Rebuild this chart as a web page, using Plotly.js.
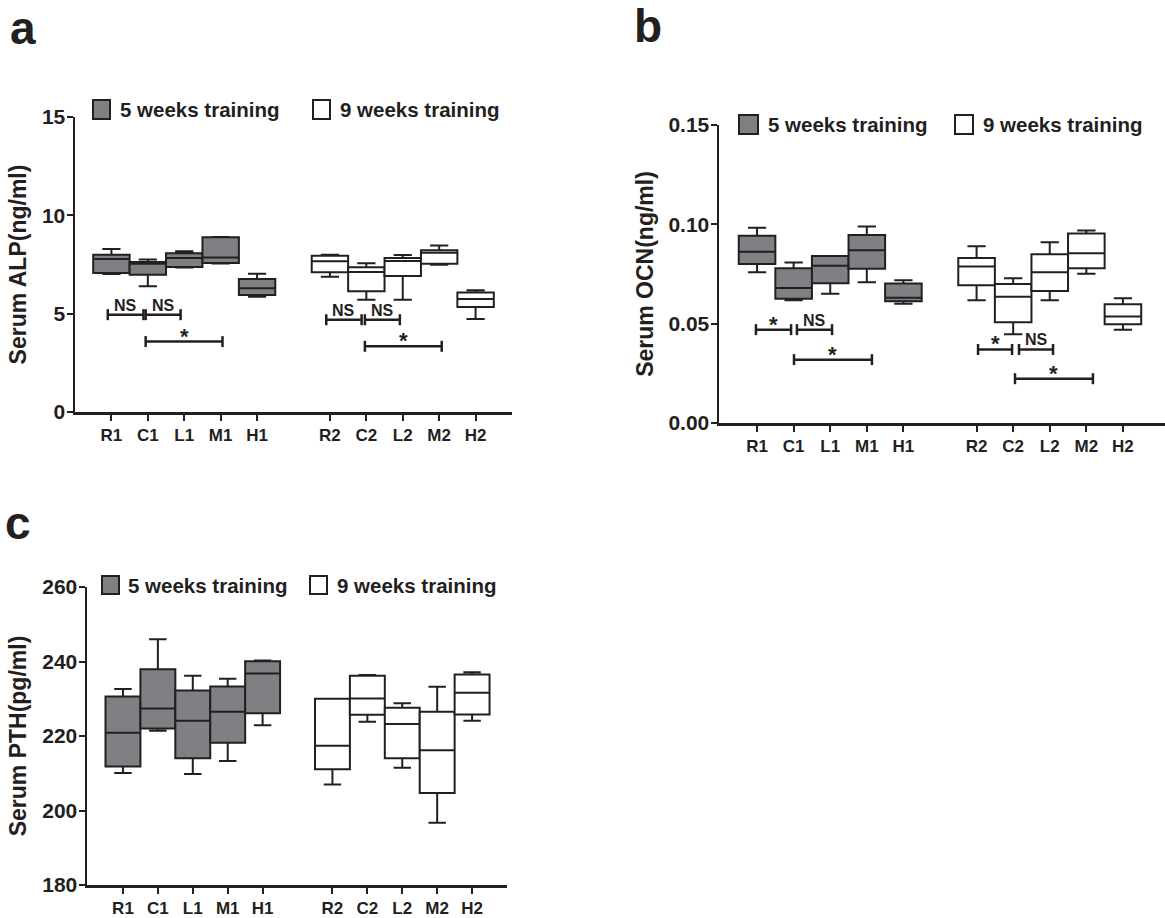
<!DOCTYPE html>
<html>
<head>
<meta charset="utf-8">
<script src="https://cdn.plot.ly/plotly-3.0.1.min.js"></script>
<style>html,body{margin:0;padding:0;background:#fff}#chart{width:1165px;height:918px}</style>
</head>
<body>
<div id="chart"></div>
<script>
// ---------- data ----------
const groups5 = ["R1", "C1", "L1", "M1", "H1"];
const groups9 = ["R2", "C2", "L2", "M2", "H2"];
const pos5 = [0, 1, 2, 3, 4];
const pos9 = [6, 7, 8, 9, 10];
const tickPositions = [0, 1, 2, 3, 4, 6, 7, 8, 9, 10];
const tickLabels = ["R1", "C1", "L1", "M1", "H1", "R2", "C2", "L2", "M2", "H2"];
const seriesNames = ["5 weeks training", "9 weeks training"];

// Panel a: Serum ALP (ng/ml)
const alp5Low = [7.02, 6.39, 7.35, 7.55, 5.86];
const alp5Q1 = [7.07, 6.98, 7.37, 7.58, 5.95];
const alp5Med = [7.78, 7.54, 7.83, 7.85, 6.29];
const alp5Q3 = [8.00, 7.63, 8.07, 8.88, 6.76];
const alp5High = [8.29, 7.75, 8.17, 8.90, 7.03];
const alp9Low = [6.88, 5.71, 5.71, 7.49, 4.73];
const alp9Q1 = [7.10, 6.14, 6.92, 7.54, 5.34];
const alp9Med = [7.66, 7.12, 7.68, 8.10, 5.75];
const alp9Q3 = [7.95, 7.36, 7.83, 8.22, 6.07];
const alp9High = [8.00, 7.56, 7.98, 8.46, 6.19];
const alpSigStart = [-0.1, 0.94, 0.94, 5.9, 6.96, 6.96];
const alpSigEnd = [0.88, 1.9, 3.05, 6.87, 7.92, 9.07];
const alpSigY = [4.95, 4.95, 3.58, 4.69, 4.69, 3.34];
const alpSigText = ["NS", "NS", "*", "NS", "NS", "*"];

// Panel b: Serum OCN (ng/ml)
const ocn5Low = [0.0759, 0.0618, 0.0650, 0.0709, 0.0600];
const ocn5Q1 = [0.0800, 0.0625, 0.0704, 0.0776, 0.0613];
const ocn5Med = [0.0862, 0.0680, 0.0791, 0.0870, 0.0630];
const ocn5Q3 = [0.0942, 0.0779, 0.0840, 0.0946, 0.0702];
const ocn5High = [0.0983, 0.0808, 0.0840, 0.0989, 0.0719];
const ocn9Low = [0.0618, 0.0447, 0.0618, 0.0751, 0.0469];
const ocn9Q1 = [0.0694, 0.0507, 0.0664, 0.0779, 0.0497];
const ocn9Med = [0.0788, 0.0635, 0.0759, 0.0855, 0.0536];
const ocn9Q3 = [0.0830, 0.0700, 0.0850, 0.0954, 0.0598];
const ocn9High = [0.0890, 0.0729, 0.0910, 0.0969, 0.0628];
const ocnSigStart = [-0.03, 1.09, 1.01, 6.04, 7.16, 7.05];
const ocnSigEnd = [0.93, 2.05, 3.14, 6.97, 8.09, 9.18];
const ocnSigY = [0.047, 0.047, 0.0319, 0.037, 0.037, 0.0223];
const ocnSigText = ["*", "NS", "*", "*", "NS", "*"];

// Panel c: Serum PTH (pg/ml)
const pth5Low = [210.1, 221.4, 209.8, 213.3, 222.9];
const pth5Q1 = [211.8, 222.0, 214.0, 218.2, 226.1];
const pth5Med = [220.9, 227.4, 224.1, 226.5, 236.8];
const pth5Q3 = [230.6, 237.9, 232.2, 233.3, 240.1];
const pth5High = [232.6, 246.0, 236.2, 235.4, 240.3];
const pth9Low = [207.0, 223.8, 211.5, 196.7, 224.1];
const pth9Q1 = [211.1, 225.7, 214.0, 204.7, 225.8];
const pth9Med = [217.4, 230.1, 223.2, 216.2, 231.6];
const pth9Q3 = [230.0, 236.2, 227.6, 226.5, 236.5];
const pth9High = [230.0, 236.4, 228.8, 233.2, 237.1];

// ---------- style ----------
const INK = "#231f20";
const GREY = "#7e8083";
const FONT = "Liberation Sans, Arial, sans-serif";
const W = 1165, H = 918;
const px = v => v / W;
const py = v => 1 - v / H;

function boxTrace(xa, ya, pos, lo, q1, med, q3, hi, fill) {
  return {
    type: "box", xaxis: xa, yaxis: ya, x: pos,
    lowerfence: lo, q1: q1, median: med, q3: q3, upperfence: hi,
    width: 1, whiskerwidth: 0.5, boxpoints: false,
    fillcolor: fill, line: {color: INK, width: 2},
    showlegend: false, hoverinfo: "skip"
  };
}

const data = [
  boxTrace("x", "y", pos5, alp5Low, alp5Q1, alp5Med, alp5Q3, alp5High, GREY),
  boxTrace("x", "y", pos9, alp9Low, alp9Q1, alp9Med, alp9Q3, alp9High, "#ffffff"),
  boxTrace("x2", "y2", pos5, ocn5Low, ocn5Q1, ocn5Med, ocn5Q3, ocn5High, GREY),
  boxTrace("x2", "y2", pos9, ocn9Low, ocn9Q1, ocn9Med, ocn9Q3, ocn9High, "#ffffff"),
  boxTrace("x3", "y3", pos5, pth5Low, pth5Q1, pth5Med, pth5Q3, pth5High, GREY),
  boxTrace("x3", "y3", pos9, pth9Low, pth9Q1, pth9Med, pth9Q3, pth9High, "#ffffff")
];

function xAxis(domain, range, anchor) {
  return {
    domain: domain, range: range, anchor: anchor,
    tickmode: "array", tickvals: tickPositions, ticktext: tickLabels,
    ticks: "outside", ticklen: 6, tickwidth: 2, tickcolor: INK,
    showline: true, linewidth: 2.5, linecolor: INK,
    showgrid: false, zeroline: false,
    tickfont: {family: FONT, size: 17, color: INK, weight: "bold"}
  };
}
function yAxis(domain, range, dtick, fmt, title, anchor) {
  return {
    domain: domain, range: range, anchor: anchor, dtick: dtick, tick0: range[0],
    tickformat: fmt,
    ticks: "outside", ticklen: 6, tickwidth: 2, tickcolor: INK,
    ticklabelstandoff: -3,
    showline: true, linewidth: 2.5, linecolor: INK,
    showgrid: false, zeroline: false,
    tickfont: {family: FONT, size: 21, color: INK, weight: "bold"},
    title: {text: title, standoff: 9, font: {family: FONT, size: 23, color: INK, weight: "bold"}}
  };
}

const shapes = [];
const annotations = [];

function addBrackets(xref, yref, starts, ends, ys, texts) {
  for (let i = 0; i < starts.length; i++) {
    shapes.push({type: "line", xref: xref, yref: yref, x0: starts[i], x1: ends[i], y0: ys[i], y1: ys[i],
      line: {color: INK, width: 2.5}});
    [starts[i], ends[i]].forEach(xv => {
      shapes.push({type: "line", xref: xref, yref: yref, x0: xv, x1: xv,
        ysizemode: "pixel", yanchor: ys[i], y0: -5.5, y1: 5.5,
        line: {color: INK, width: 2.5}});
    });
    const isStar = texts[i] === "*";
    annotations.push({xref: xref, yref: yref, x: (starts[i] + ends[i]) / 2, y: ys[i],
      text: texts[i], showarrow: false, xanchor: "center", yanchor: "bottom",
      yshift: isStar ? -9 : -1,
      font: {family: FONT, size: isStar ? 22 : 16, color: INK, weight: "bold"}});
  }
}
addBrackets("x", "y", alpSigStart, alpSigEnd, alpSigY, alpSigText);
addBrackets("x2", "y2", ocnSigStart, ocnSigEnd, ocnSigY, ocnSigText);

// legends (one per panel): square x-extents, top, bottom, text starts (px)
function addLegend(sq1, sq2, top, bottom, t1, t2) {
  [[sq1, GREY, t1, seriesNames[0]], [sq2, "#ffffff", t2, seriesNames[1]]].forEach(([sq, fill, tx, name]) => {
    shapes.push({type: "rect", xref: "paper", yref: "paper",
      x0: px(sq[0]), x1: px(sq[1]), y0: py(bottom), y1: py(top),
      fillcolor: fill, line: {color: INK, width: 2}});
    annotations.push({xref: "paper", yref: "paper", x: px(tx), y: py((top + bottom) / 2),
      text: name, showarrow: false, xanchor: "left", yanchor: "middle",
      font: {family: FONT, size: 20.5, color: INK, weight: "bold"}});
  });
}
addLegend([93, 110], [313, 330], 100, 119, 118, 338);
addLegend([739, 758], [955, 973], 115, 134, 766, 981);
addLegend([102, 119], [310, 327], 576, 594, 126, 335);

// panel letters
[["a", 8, 28], ["b", 632, 26], ["c", 3, 523]].forEach(([t, x, y]) => {
  annotations.push({xref: "paper", yref: "paper", x: px(x), y: py(y), text: t,
    showarrow: false, xanchor: "left", yanchor: "middle",
    font: {family: FONT, size: 46, color: INK, weight: "bold"}});
});

const layout = {
  width: W, height: H, margin: {l: 0, r: 0, t: 0, b: 0},
  paper_bgcolor: "#ffffff", plot_bgcolor: "rgba(0,0,0,0)",
  showlegend: false, boxmode: "overlay",
  xaxis: xAxis([px(75), px(512)], [-1, 11], "y"),
  yaxis: yAxis([py(412), py(117)], [0, 15], 5, "d", "Serum ALP(ng/ml)", "x"),
  xaxis2: xAxis([px(719), 1], [-1.04, 11.15], "y2"),
  yaxis2: yAxis([py(423), py(125)], [0, 0.15], 0.05, ".2f", "Serum OCN(ng/ml)", "x2"),
  xaxis3: xAxis([px(87), px(507)], [-1.03, 11], "y3"),
  yaxis3: yAxis([py(885), py(587)], [180, 260], 20, "d", "Serum PTH(pg/ml)", "x3"),
  shapes: shapes, annotations: annotations
};

Plotly.newPlot("chart", data, layout, {staticPlot: true, displayModeBar: false});
</script>
</body>
</html>
